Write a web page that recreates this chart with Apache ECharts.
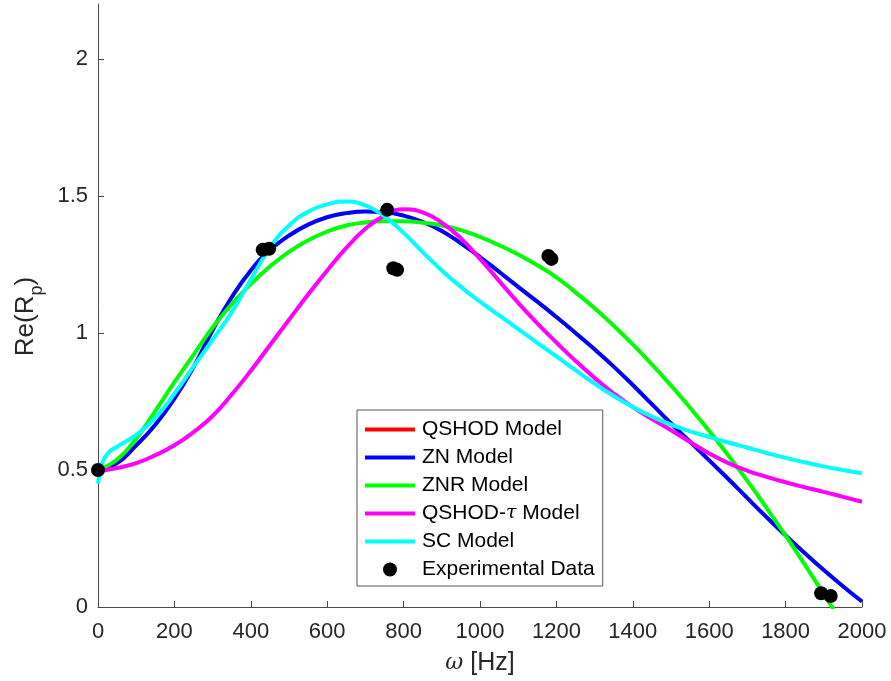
<!DOCTYPE html>
<html>
<head>
<meta charset="utf-8">
<script src="https://cdn.jsdelivr.net/npm/echarts@6/dist/echarts.min.js"></script>
<style>
  html, body { margin: 0; padding: 0; background: #ffffff; }
  #chart { width: 891px; height: 681px; }
</style>
</head>
<body>
<div id="chart"></div>
<script>
// Frequency grid (Hz) and Re(Rp) for each model curve
const znHz  = [0, 50, 100, 150, 200, 250, 300, 350, 400, 450, 500, 550, 600, 650, 700, 750, 800, 850, 900, 950, 1000,
               1050, 1100, 1150, 1200, 1250, 1300, 1350, 1400, 1450, 1500, 1550, 1600, 1650, 1700, 1750, 1800, 1850, 1900, 1950, 2000];
const znRe  = [0.50, 0.525, 0.59, 0.665, 0.76, 0.875, 1.01, 1.13, 1.228, 1.302, 1.355, 1.395, 1.422, 1.437, 1.443, 1.44, 1.428, 1.405, 1.372, 1.327, 1.277,
               1.223, 1.168, 1.114, 1.058, 1.0, 0.94, 0.877, 0.81, 0.74, 0.67, 0.603, 0.535, 0.467, 0.397, 0.328, 0.261, 0.197, 0.135, 0.076, 0.02];

// QSHOD coincides with ZN and is drawn underneath it
const qshodHz = znHz.slice();
const qshodRe = znRe.slice();

const znrHz = [0, 50, 100, 150, 200, 250, 300, 350, 400, 450, 500, 550, 600, 650, 700, 750, 800, 850, 900, 950, 1000,
               1050, 1100, 1150, 1200, 1250, 1300, 1350, 1400, 1450, 1500, 1550, 1600, 1650, 1700, 1750, 1800, 1850, 1900, 1925];
const znrRe = [0.50, 0.538, 0.615, 0.715, 0.82, 0.92, 1.02, 1.105, 1.178, 1.242, 1.296, 1.338, 1.37, 1.392, 1.403, 1.407, 1.407, 1.402, 1.392, 1.375, 1.35,
               1.32, 1.286, 1.247, 1.203, 1.148, 1.09, 1.026, 0.958, 0.885, 0.808, 0.727, 0.642, 0.553, 0.46, 0.362, 0.26, 0.155, 0.047, -0.008];

const tauHz = [0, 50, 100, 150, 200, 250, 300, 350, 400, 450, 500, 550, 600, 650, 700, 750, 800, 850, 900, 950, 1000,
               1050, 1100, 1150, 1200, 1250, 1300, 1350, 1400, 1450, 1500, 1550, 1600, 1650, 1700, 1750, 1800, 1850, 1900, 1950, 2000];
const tauRe = [0.495, 0.507, 0.525, 0.554, 0.59, 0.638, 0.697, 0.775, 0.862, 0.955, 1.048, 1.14, 1.228, 1.31, 1.38, 1.428, 1.451, 1.44, 1.402, 1.345, 1.27,
               1.19, 1.11, 1.035, 0.965, 0.898, 0.836, 0.779, 0.729, 0.686, 0.645, 0.602, 0.56, 0.525, 0.497, 0.475, 0.455, 0.437, 0.42, 0.402, 0.384];

const scHz  = [0, 10, 25, 50, 100, 150, 200, 250, 300, 350, 400, 450, 500, 550, 600, 650, 700, 750, 800, 850, 900, 950, 1000,
               1050, 1100, 1150, 1200, 1250, 1300, 1350, 1400, 1450, 1500, 1550, 1600, 1650, 1700, 1750, 1800, 1850, 1900, 1950, 2000];
const scRe  = [0.45, 0.52, 0.56, 0.585, 0.628, 0.69, 0.778, 0.877, 0.975, 1.075, 1.195, 1.31, 1.392, 1.442, 1.469, 1.479, 1.465, 1.425, 1.365, 1.295, 1.228, 1.168, 1.114,
               1.064, 1.014, 0.964, 0.914, 0.864, 0.815, 0.77, 0.73, 0.695, 0.665, 0.641, 0.62, 0.60, 0.581, 0.562, 0.544, 0.528, 0.513, 0.50, 0.488];

// Measured points
const expHz = [0, 431, 448, 757, 773, 783, 1179, 1187, 1893, 1918];
const expRe = [0.50, 1.303, 1.307, 1.449, 1.236, 1.23, 1.281, 1.27, 0.05, 0.04];

// Axis ticks
const xTicks = [0, 200, 400, 600, 800, 1000, 1200, 1400, 1600, 1800, 2000];
const yTicks = [0, 0.5, 1, 1.5, 2];

const pairs = (xs, ys) => xs.map((x, i) => [x, ys[i]]);

const FONT = '"Liberation Sans", Arial, Helvetica, sans-serif';
const AXIS_COLOR = '#4a4a4a';
const TEXT_COLOR = '#262626';
const LINE_ICON = 'path://M0,0H50V4H0Z';

function curve(name, color, xs, ys, width) {
  return {
    name: name,
    type: 'line',
    data: pairs(xs, ys),
    showSymbol: false,
    symbol: 'none',
    smooth: 0.5,
    lineStyle: { color: color, width: width },
    itemStyle: { color: color },
    emphasis: { disabled: true },
    animation: false
  };
}

const chart = echarts.init(document.getElementById('chart'), null, { renderer: 'canvas' });

chart.setOption({
  backgroundColor: '#ffffff',
  animation: false,
  grid: { left: 98, right: 29, top: 4, bottom: 74, containLabel: false },
  xAxis: {
    type: 'value',
    min: 0, max: 2000, interval: 200,
    name: '{i|ω} [Hz]',
    nameLocation: 'middle',
    nameGap: 44,
    nameTextStyle: {
      fontFamily: FONT, fontSize: 25, color: TEXT_COLOR,
      rich: { i: { fontFamily: '"DejaVu Serif", serif', fontStyle: 'italic', fontSize: 22, color: TEXT_COLOR } }
    },
    axisLine: { show: true, lineStyle: { color: AXIS_COLOR, width: 1 } },
    axisTick: { show: true, inside: true, length: 6, lineStyle: { color: AXIS_COLOR }, customValues: xTicks },
    axisLabel: {
      fontFamily: FONT, fontSize: 22, color: TEXT_COLOR, margin: 14, customValues: xTicks,
      formatter: function (v) { return String(v); }
    },
    splitLine: { show: false }
  },
  yAxis: {
    type: 'value',
    min: 0, max: 2.2, interval: 0.5,
    name: '{base|Re(R}{sub|p}{base|)}',
    nameLocation: 'middle',
    nameGap: 46,
    nameRotate: 90,
    nameTextStyle: {
      fontFamily: FONT, fontSize: 26, color: TEXT_COLOR, padding: [0, 22, 0, 0],
      rich: {
        base: { fontFamily: FONT, fontSize: 26, color: TEXT_COLOR, verticalAlign: 'top', lineHeight: 34 },
        sub: { fontFamily: FONT, fontSize: 18, color: TEXT_COLOR, verticalAlign: 'bottom', lineHeight: 34 }
      }
    },
    axisLine: { show: true, lineStyle: { color: AXIS_COLOR, width: 1 } },
    axisTick: { show: true, inside: true, length: 6, lineStyle: { color: AXIS_COLOR }, customValues: yTicks },
    axisLabel: {
      fontFamily: FONT, fontSize: 22, color: TEXT_COLOR, margin: 10, customValues: yTicks,
      formatter: function (v) { return String(v); }
    },
    splitLine: { show: false }
  },
  legend: {
    orient: 'vertical',
    left: 357, top: 410,
    padding: [9, 8, 6, 8],
    itemWidth: 50, itemHeight: 14, itemGap: 7,
    backgroundColor: '#ffffff',
    borderColor: '#555555', borderWidth: 1,
    selectedMode: false,
    textStyle: {
      fontFamily: FONT, fontSize: 21, color: '#000000', padding: [0, 0, 0, 2],
      rich: { i: { fontFamily: '"DejaVu Serif", serif', fontStyle: 'italic', fontSize: 19, color: '#000000' } }
    },
    formatter: function (name) {
      return name === 'QSHOD-τ Model' ? 'QSHOD-{i|τ} Model' : name;
    },
    data: [
      { name: 'QSHOD Model', icon: LINE_ICON },
      { name: 'ZN Model', icon: LINE_ICON },
      { name: 'ZNR Model', icon: LINE_ICON },
      { name: 'QSHOD-τ Model', icon: LINE_ICON },
      { name: 'SC Model', icon: LINE_ICON },
      { name: 'Experimental Data', icon: 'circle' }
    ]
  },
  series: [
    curve('QSHOD Model', '#ff0000', qshodHz, qshodRe, 3),
    curve('ZN Model', '#0000ff', znHz, znRe, 4),
    curve('ZNR Model', '#00ff00', znrHz, znrRe, 4),
    curve('QSHOD-τ Model', '#ff00ff', tauHz, tauRe, 4),
    curve('SC Model', '#00ffff', scHz, scRe, 4),
    {
      name: 'Experimental Data',
      type: 'scatter',
      data: pairs(expHz, expRe),
      symbol: 'circle',
      symbolSize: 14,
      itemStyle: { color: '#000000', opacity: 1 },
      emphasis: { disabled: true },
      z: 5,
      animation: false
    }
  ]
});
</script>
</body>
</html>
